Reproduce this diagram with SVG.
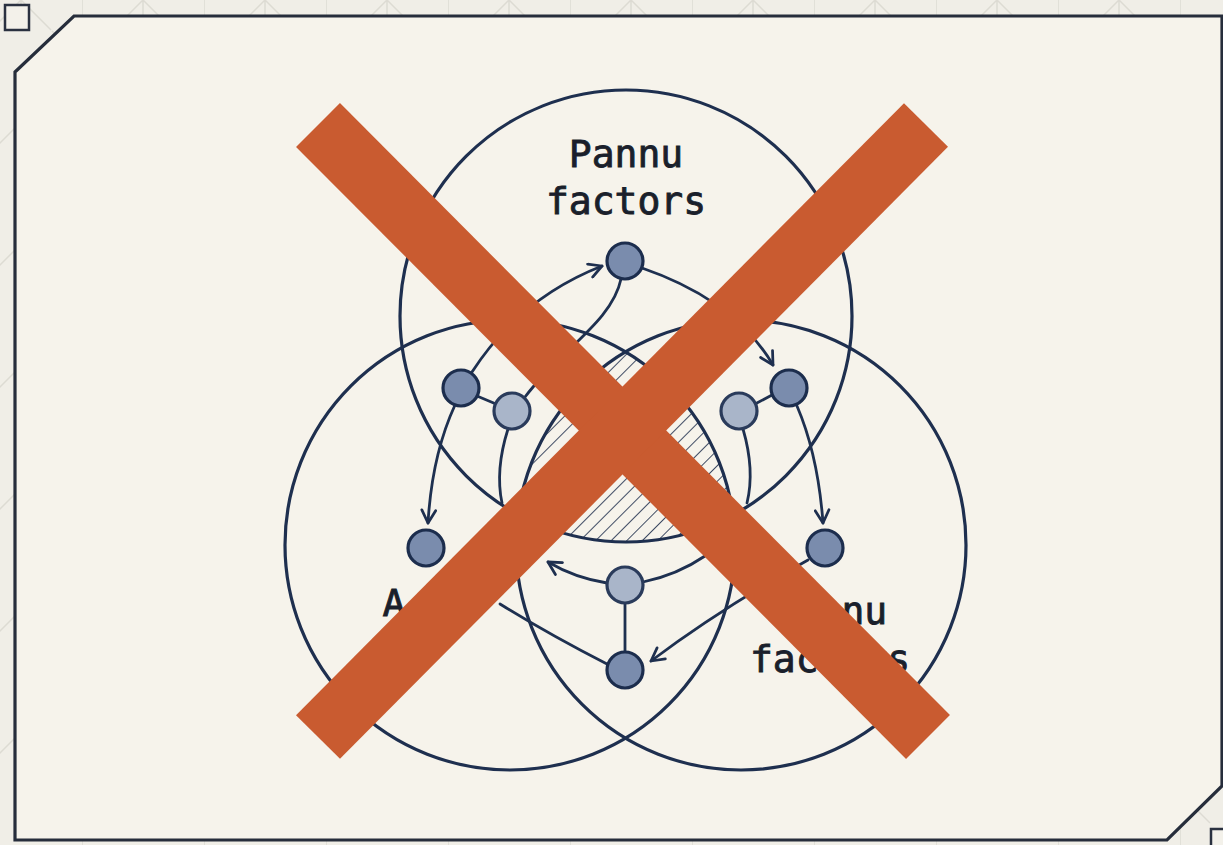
<svg xmlns="http://www.w3.org/2000/svg" width="1223" height="845" viewBox="0 0 1223 845">
  <defs>
    <pattern id="grid" x="-40" y="0" width="122" height="122" patternUnits="userSpaceOnUse">
      <g stroke="#dddbd3" stroke-width="1.5" fill="none">
        <path d="M0,0 V122"/>
        <path d="M61,0 L31,30 M61,0 L91,30 M61,0 V20"/>
        <path d="M0,61 L30,91 M0,61 L30,31 M122,61 L92,91 M122,61 L92,31"/>
      </g>
    </pattern>
    <marker id="arrow" viewBox="0 0 16 16" refX="14" refY="8" markerWidth="17" markerHeight="17" markerUnits="userSpaceOnUse" orient="auto">
      <path d="M2,1.5 L14,8 L2,14.5" fill="none" stroke="#1e2f4f" stroke-width="2.6" stroke-linecap="round" stroke-linejoin="round"/>
    </marker>
    <pattern id="hatch" width="11" height="11" patternUnits="userSpaceOnUse" patternTransform="rotate(-45)">
      <path d="M0,0 H11" stroke="#2a3854" stroke-width="1.8"/>
    </pattern>
    <clipPath id="clipTop"><circle cx="626" cy="316" r="226"/></clipPath>
    <clipPath id="clipLeft" clip-path="url(#clipTop)"><circle cx="510" cy="545" r="225"/></clipPath>
    <clipPath id="clipAll" clip-path="url(#clipLeft)"><circle cx="741" cy="545" r="225"/></clipPath>
  </defs>
  <style>
    .ring { fill: none; stroke: #1e2f4f; stroke-width: 3.2; }
    .edge { fill: none; stroke: #1e3050; stroke-width: 2.8; stroke-linecap: round; }
    .dark { fill: #7a8cad; stroke: #1c2d4d; stroke-width: 3.2; }
    .light { fill: #a9b5c9; stroke: #2a3b5b; stroke-width: 3.2; }
    .label { font-family: "DejaVu Sans Mono", "Liberation Mono", monospace; font-size: 38px; fill: #1a1f2b; stroke: #1a1f2b; stroke-width: 0.9; text-anchor: middle; }
    .bar { stroke: #c95b30; stroke-width: 62; stroke-linecap: butt; }
  </style>

  <!-- page backdrop -->
  <rect width="1223" height="845" fill="#f0eee7"/>
  <rect width="1223" height="845" fill="url(#grid)"/>
  <rect x="5" y="5" width="24" height="25" fill="#f3f1ea" stroke="#2a3140" stroke-width="2.5"/>
  <rect x="1211" y="829" width="24" height="25" fill="#f3f1ea" stroke="#2a3140" stroke-width="2.5"/>

  <!-- frame -->
  <path d="M15,72 L74,16 L1222,16 L1222,786 L1167,840 L15,840 Z" fill="#f6f3eb" stroke="#262d3b" stroke-width="3.2"/>

  <!-- triple overlap hatch -->
  <rect x="500" y="330" width="250" height="230" fill="url(#hatch)" clip-path="url(#clipAll)"/>

  <!-- sets -->
  <g id="set-top"><circle class="ring" cx="626" cy="316" r="226"/></g>
  <g id="set-left"><circle class="ring" cx="510" cy="545" r="225"/></g>
  <g id="set-right"><circle class="ring" cx="741" cy="545" r="225"/></g>

  <!-- connectors -->
  <g id="connectors">
    <path class="edge" d="M472,372 Q520,298 602,266" marker-end="url(#arrow)"/>
    <path class="edge" d="M621,279 C612,322 560,350 525,397"/>
    <path class="edge" d="M477,396 L496,404"/>
    <path class="edge" d="M642,268 Q735,300 773,365" marker-end="url(#arrow)"/>
    <path class="edge" d="M772,395 L755,404"/>
    <path class="edge" d="M743,429 Q755,470 747,503"/>
    <path class="edge" d="M797,406 Q818,455 823,523" marker-end="url(#arrow)"/>
    <path class="edge" d="M455,405 Q432,455 428,523" marker-end="url(#arrow)"/>
    <path class="edge" d="M508,429 Q495,470 502,503"/>
    <path class="edge" d="M607,583 Q575,578 548,562" marker-end="url(#arrow)"/>
    <path class="edge" d="M643,582 Q677,575 705,556"/>
    <path class="edge" d="M625,603 L625,652"/>
    <path class="edge" d="M607,664 Q550,635 500,604"/>
    <path class="edge" d="M808,560 Q722,608 651,661" marker-end="url(#arrow)"/>
  </g>

  <!-- nodes -->
  <g id="node-top"><circle class="dark" cx="625" cy="261" r="18"/></g>
  <g id="node-left-a"><circle class="dark" cx="461" cy="388" r="18"/></g>
  <g id="node-left-b"><circle class="light" cx="512" cy="411" r="18"/></g>
  <g id="node-right-a"><circle class="dark" cx="789" cy="388" r="18"/></g>
  <g id="node-right-b"><circle class="light" cx="739" cy="411" r="18"/></g>
  <g id="node-left-c"><circle class="dark" cx="426" cy="548" r="18"/></g>
  <g id="node-right-c"><circle class="dark" cx="825" cy="548" r="18"/></g>
  <g id="node-bottom-a"><circle class="light" cx="625" cy="585" r="18"/></g>
  <g id="node-bottom-b"><circle class="dark" cx="625" cy="670" r="18"/></g>

  <!-- labels -->
  <g id="label-top">
    <text class="label" x="626" y="167">Pannu</text>
    <text class="label" x="626" y="214">factors</text>
  </g>
  <g id="label-left">
    <text class="label" x="394" y="616">A</text>
  </g>
  <g id="label-right">
    <text class="label" x="830" y="624">Pannu</text>
    <text class="label" x="830" y="672">factors</text>
  </g>

  <!-- cross-out -->
  <g id="cross">
    <line class="bar" x1="318" y1="125" x2="928" y2="737"/>
    <line class="bar" x1="926" y1="125" x2="318" y2="737"/>
  </g>
</svg>
